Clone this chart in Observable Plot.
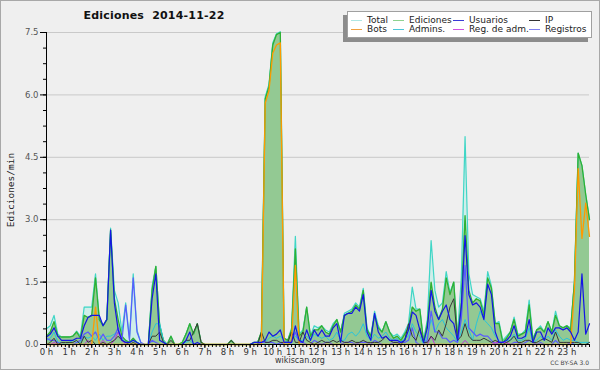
<!DOCTYPE html>
<html><head><meta charset="utf-8">
<script src="https://cdn.jsdelivr.net/npm/d3@7"></script>
<script src="https://cdn.jsdelivr.net/npm/@observablehq/plot@0.6"></script>
<style>
html,body{margin:0;padding:0;background:#efefef;}
#wrap{position:relative;width:600px;height:370px;background:#efefef;overflow:hidden;font-family:"DejaVu Sans",sans-serif;}
#frame{position:absolute;left:0;top:0;width:600px;height:370px;box-sizing:border-box;border:1px solid #a8a8a8;}
#chart{position:absolute;left:0;top:0;}
#title{position:absolute;left:0;width:308px;top:9px;line-height:13px;text-align:center;font:bold 11px "DejaVu Sans";color:#111;white-space:pre;letter-spacing:0.2px;}
#ytitle{position:absolute;left:10px;top:190px;transform:translate(-50%,-50%) rotate(-90deg);white-space:nowrap;font:9.5px "DejaVu Sans Mono";color:#222;}
#site{position:absolute;left:0;width:600px;top:356px;line-height:10px;text-align:center;font:8px "DejaVu Sans";color:#333;}
#lic{position:absolute;right:11px;top:359px;line-height:8px;font:6px "DejaVu Sans";color:#444;}
#legend{position:absolute;left:347px;top:11px;width:245px;height:27px;box-sizing:border-box;background:#fff;border:1px solid #a0a0a0;box-shadow:-4px 4px 0 #8c8c8c;}
.li{position:absolute;font:9px "DejaVu Sans";color:#222;line-height:10px;white-space:nowrap;}
.sw{position:absolute;height:1px;width:11px;}
</style>
</head><body>
<div id="wrap">
<div id="frame"></div>
<div id="chart"></div>
<div id="title"></div>
<div id="ytitle"></div>
<div id="site"></div>
<div id="lic"></div>
<div id="legend"></div>
</div>
<script>
const titleText = "Ediciones  2014-11-22";
const yTitle = "Ediciones/min";
const siteText = "wikiscan.org";
const licText = "CC BY-SA 3.0";

// series names (legend order) and colors
const seriesNames = ["Total", "Ediciones", "Usuarios", "IP", "Bots", "Admins.", "Reg. de adm.", "Registros"];
const legendColors = ["#aee6e4", "#8fd28f", "#3a3ad6", "#333333", "#f0a040", "#4cc6d8", "#d050e0", "#8080f0"];

// hour labels
const hourLabels = d3.range(24).map(h => h + " h");
const yTickValues = [0, 1.5, 3, 4.5, 6, 7.5];

// values per 10 minutes (145 points, 0 h .. 24 h), edits per minute
const total = [
0.38,0.45,0.7,0.25,0.18,0.18,0.18,0.2,0.32,0.2,
0.9,0.9,0.9,1.7,0.65,0.45,0.6,2.8,1.3,1.0,
0.3,1.0,0.15,1.7,0.35,0.05,0,0,1.4,1.88,
0.5,0.1,0,0.2,0,0,0.05,0.25,0.5,0.25,
0.5,0.05,0,0,0,0,0,0,0,0.1,
0,0,0,0,0,0.05,0.05,0.3,5.95,6.25,
7.25,7.47,7.52,0.15,0.1,0.4,2.6,0.25,0.35,0.9,
0.2,0.45,0.4,0.45,0.35,0.3,0.5,0.6,0.3,0.75,
0.8,0.85,1.0,0.9,1.35,0.4,0.2,0.8,0.45,0.3,
0.55,0.3,0.2,0.25,0.15,0.3,0.5,1.38,0.85,0.85,
0.1,0.6,2.5,1.3,0.9,1.0,1.75,1.25,1.5,0.2,
1.6,5.0,1.7,1.2,1.15,1.1,0.8,1.75,1.4,0.5,
0.55,0.1,0.2,0.3,0.66,0.25,0.25,0.35,1.07,0.15,
0.35,0.45,0.3,0.55,0.3,0.8,0.45,0.4,0.45,0.4,
1.5,4.6,4.3,3.6,3.0];
const ediciones = [
0.2,0.3,0.55,0.2,0.18,0.18,0.18,0.2,0.3,0.15,
0.7,0.65,0.7,1.6,0.6,0.45,0.6,2.75,1.1,0.6,
0.2,0.1,0.05,0.15,0.05,0,0,0,1.3,1.88,
0.45,0.1,0,0.2,0,0,0.05,0.25,0.5,0.25,
0.5,0.05,0,0,0,0,0,0,0,0.1,
0,0,0,0,0,0.05,0.05,0.3,5.9,6.2,
7.2,7.45,7.5,0.15,0.1,0.35,2.3,0.2,0.3,0.9,
0.2,0.35,0.35,0.45,0.3,0.25,0.45,0.6,0.3,0.7,
0.75,0.8,0.95,0.85,1.3,0.35,0.2,0.7,0.4,0.3,
0.55,0.3,0.15,0.2,0.1,0.25,0.4,0.9,0.8,0.85,
0.05,0.5,1.5,0.9,0.6,0.85,1.6,1.2,1.5,0.15,
1.0,3.1,1.3,1.0,1.1,1.05,0.7,1.6,1.35,0.5,
0.5,0.05,0.15,0.3,0.6,0.2,0.25,0.3,0.95,0.1,
0.35,0.4,0.3,0.55,0.3,0.7,0.45,0.4,0.45,0.35,
1.5,4.6,4.3,3.6,3.0];
const usuarios = [
0.18,0.25,0.4,0.2,0.1,0.1,0.1,0.1,0.15,0.15,
0.45,0.65,0.7,0.7,0.7,0.45,0.6,2.75,1.0,0.35,
0.1,0.05,0.05,0.1,0.05,0,0,0,1.1,1.7,
0.1,0.05,0,0,0,0,0,0.1,0.3,0,
0.05,0,0,0,0,0,0,0,0,0,
0,0,0,0,0,0.05,0.05,0.05,0.1,0.3,
0.2,0.25,0.35,0.05,0.05,0.05,0.45,0.1,0.05,0.35,
0.1,0.35,0.2,0.35,0.2,0.2,0.4,0.5,0.05,0.7,
0.75,0.75,0.9,0.8,1.2,0.3,0.1,0.75,0.3,0.15,
0.2,0.1,0.1,0.1,0.05,0.1,0.35,0.78,0.7,0.35,
0.05,0.4,1.3,0.8,0.6,0.8,0.95,0.6,0.5,0.1,
0.9,2.62,1.2,0.95,1.0,0.9,0.6,1.45,1.2,0.3,
0.05,0.05,0.1,0.2,0.45,0.15,0.15,0.2,0.6,0.05,
0.3,0.3,0.1,0.4,0.25,0.4,0.4,0.35,0.4,0.3,
0.1,0.3,1.7,0.25,0.5];
const ip = [
0,0.05,0.15,0,0.05,0.05,0.05,0.05,0.1,0,
0.2,0.05,0.1,0,0,0.05,0,0.05,0.1,0.2,
0.1,0.05,0,0.05,0,0,0,0,0.2,0.2,
0.3,0.05,0,0.1,0,0,0,0.1,0.1,0.3,
0.5,0.05,0,0,0,0,0,0,0,0.1,
0,0,0,0,0,0,0,0.3,0.05,0.05,
0.1,0.1,0.05,0.05,0.05,0.3,0.05,0.05,0.3,0.1,
0.05,0,0.05,0.1,0.05,0.05,0.1,0.05,0.1,0.05,
0.05,0.1,0.05,0.05,0.1,0.05,0.05,0.05,0.05,0.1,
0.2,0.1,0.05,0.05,0,0.1,0.5,0.2,0.1,0.4,
0.05,0.05,0.2,0.1,0.35,0.2,0.5,0.9,1.1,0.1,
0.2,0.5,0.2,0.1,0.1,0.1,0.15,0.1,0.05,0.1,
0.05,0,0.05,0.1,0.2,0.05,0.05,0.1,0.1,0.05,
0.05,0.1,0.15,0.1,0.05,0.3,0.05,0.05,0.05,0.05,
0.05,0.05,0,0,0.05];
const bots = [
0,0,0,0,0,0,0,0,0,0,
0,0,0,0.9,0,0,0,0,0,0,
0,0,0,0,0,0,0,0,0,0,
0,0,0,0,0,0,0,0,0,0,
0,0,0,0,0,0,0,0,0,0,
0,0,0,0,0,0,0,0,5.8,6.1,
7.0,7.2,7.25,0,0,0.1,1.9,0,0,0,
0,0,0,0,0,0,0,0,0,0,
0,0,0,0,0,0,0,0,0,0,
0,0,0,0,0,0,0,0,0,0,
0,0,0,0,0,0,0,0,0,0,
0,0,0,0,0,0,0,0,0,0,
0,0,0,0,0,0,0,0,0,0,
0,0,0,0,0,0,0,0,0,0,
1.3,4.23,2.55,3.4,2.6];
const admins = [
0.1,0.15,0.3,0.05,0.05,0,0.05,0.1,0.05,0.05,
0.2,0.15,0.2,0.1,0.25,0.1,0.2,0.2,0.25,0.3,
0.15,0.05,0.05,0.1,0.05,0,0,0,0.3,0.5,
0.5,0.1,0,0,0,0,0,0.05,0.1,0,
0,0,0,0,0,0,0,0,0,0,
0,0,0,0,0,0,0,0.05,0.05,0.15,
0.2,0.15,0.2,0.1,0.05,0.1,0.2,0.1,0.1,0.2,
0.1,0.25,0.2,0.15,0.2,0.1,0.15,0.3,0.1,0.1,
0.25,0.3,0.2,0.3,0.5,0.2,0.1,0.25,0.15,0.2,
0.3,0.15,0.1,0.15,0.05,0.15,0.2,0.5,0.3,0.2,
0,0.2,0.6,0.3,0.5,0.6,0.4,0.3,0.2,0.05,
0.3,0.6,0.35,0.1,0.5,0.8,0.6,0.5,0.4,0.2,
0.1,0,0.1,0.1,0.25,0.1,0.1,0.15,0.4,0.05,
0.1,0.2,0.1,0.2,0.1,0.35,0.2,0.1,0.15,0.1,
0.1,0.05,0.05,0.05,0.05];
const regAdm = [
0,0,0.05,0,0,0,0,0,0,0,
0,0.1,0,0,0,0.1,0,0,0.1,0.3,
0.1,0,0,0,0,0,0,0,0,0,
0,0,0,0,0,0,0,0,0,0,
0,0,0,0,0,0,0,0,0,0,
0,0,0,0,0,0,0,0,0,0,
0,0,0,0,0,0,0,0,0,0,
0,0,0,0,0,0,0,0,0,0,
0,0,0,0,0,0,0,0,0,0,
0,0,0,0,0,0,0,0,0,0,
0,0,0.2,0,0,0,0,0,0,0,
0,0.1,0,0,0,0,0,0,0,0.05,
0.05,0.05,0.05,0,0,0,0,0,0,0,
0,0,0,0,0,0,0,0,0,0,
0,0,0,0,0];
const registros = [
0.15,0.1,0.1,0.05,0,0,0,0,0.05,0.1,
0.25,0.3,0.2,0.3,0.1,0.25,0.1,0.1,0.2,0.4,
0.1,0.95,0.1,1.6,0.3,0.05,0,0,0.1,0.05,
0,0,0,0,0,0,0,0,0,0,
0,0,0,0,0,0,0,0,0,0,
0,0,0,0,0,0,0,0.05,0.05,0.05,
0.05,0,0.05,0,0,0.05,0.3,0.05,0.05,0,
0,0.1,0.05,0,0.05,0.05,0,0,0,0.05,
0.05,0.05,0,0.05,0.05,0.05,0,0.1,0.05,0,
0,0,0.05,0.05,0.05,0.05,0.1,0.4,0.05,0,
0,0.1,0.8,0.3,0.3,0.15,0.15,0.05,0.1,0.05,
0.6,1.9,0.4,0.3,0.2,0.25,0.2,0.2,0.1,0,
0.05,0.05,0.05,0,0.05,0.05,0,0.05,0.1,0.05,
0,0.05,0,0,0,0.1,0,0,0,0.05,
0,0,0,0,0];

const rows = total.map((t, i) => ({
  h: i / 6, total: t, ediciones: ediciones[i], usuarios: usuarios[i], ip: ip[i],
  bots: bots[i], admins: admins[i], regAdm: regAdm[i], registros: registros[i]
}));

const minorX = d3.range(145).map(i => i / 6);
const hourTicks = d3.range(24);
const minorY = d3.range(21).map(i => i * 0.375);

const line = (y, stroke, w) => Plot.lineY(rows, {x: "h", y, stroke, strokeWidth: w});

const chart = Plot.plot({
  width: 600, height: 370,
  marginLeft: 46, marginRight: 11, marginTop: 32, marginBottom: 26,
  style: {background: "transparent", fontFamily: "DejaVu Sans", fontSize: "8.5px", color: "#444", overflow: "visible"},
  x: {domain: [0, 24], axis: null},
  y: {domain: [0, 7.5], axis: null},
  marks: [
    Plot.ruleY(yTickValues.slice(1), {stroke: "#c9c9c9", strokeWidth: 1}),
    Plot.areaY(rows, {x: "h", y: "total", fill: "#cfeeea"}),
    Plot.areaY(rows, {x: "h", y: "ediciones", fill: "#93c993"}),
    line("total", "#40d6c6", 1.2),
    line("ediciones", "#30b030", 1.3),
    line("admins", "#28c4dc", 1),
    line("registros", "#5a5aff", 1.2),
    line("regAdm", "#c030e0", 1),
    line("ip", "#383838", 1),
    line("bots", "#ff9a00", 1.3),
    line("usuarios", "#1414e6", 1.2),
    Plot.axisX(minorX, {tickSize: 3, tickFormat: () => "", label: null, stroke: "#000"}),
    Plot.axisX(hourTicks, {tickSize: 4, tickPadding: 0, tickFormat: d => hourLabels[d], label: null, stroke: "#000", fill: "#333"}),
    Plot.axisY(minorY, {tickSize: 3, tickFormat: () => "", label: null, stroke: "#000"}),
    Plot.axisY(yTickValues, {tickSize: 6, tickPadding: 2, tickFormat: d3.format(".1f"), label: null, stroke: "#000", fill: "#555"}),
    Plot.ruleX([0], {stroke: "#000"}),
    Plot.ruleY([0], {stroke: "#000"})
  ]
});
document.getElementById("chart").appendChild(chart);

document.getElementById("title").textContent = titleText;
document.getElementById("ytitle").textContent = yTitle;
document.getElementById("site").textContent = siteText;
document.getElementById("lic").textContent = licText;

const lg = document.getElementById("legend");
const colX = [3, 45, 105, 181];
const rowY = [3, 12];
seriesNames.forEach((name, k) => {
  const c = k % 4, r = Math.floor(k / 4);
  const sw = document.createElement("div");
  sw.className = "sw";
  sw.style.left = colX[c] + "px";
  sw.style.top = (rowY[r] + 5) + "px";
  sw.style.background = legendColors[k];
  lg.appendChild(sw);
  const t = document.createElement("div");
  t.className = "li";
  t.style.left = (colX[c] + 16) + "px";
  t.style.top = rowY[r] + "px";
  t.textContent = name;
  lg.appendChild(t);
});
</script>
</body></html>
